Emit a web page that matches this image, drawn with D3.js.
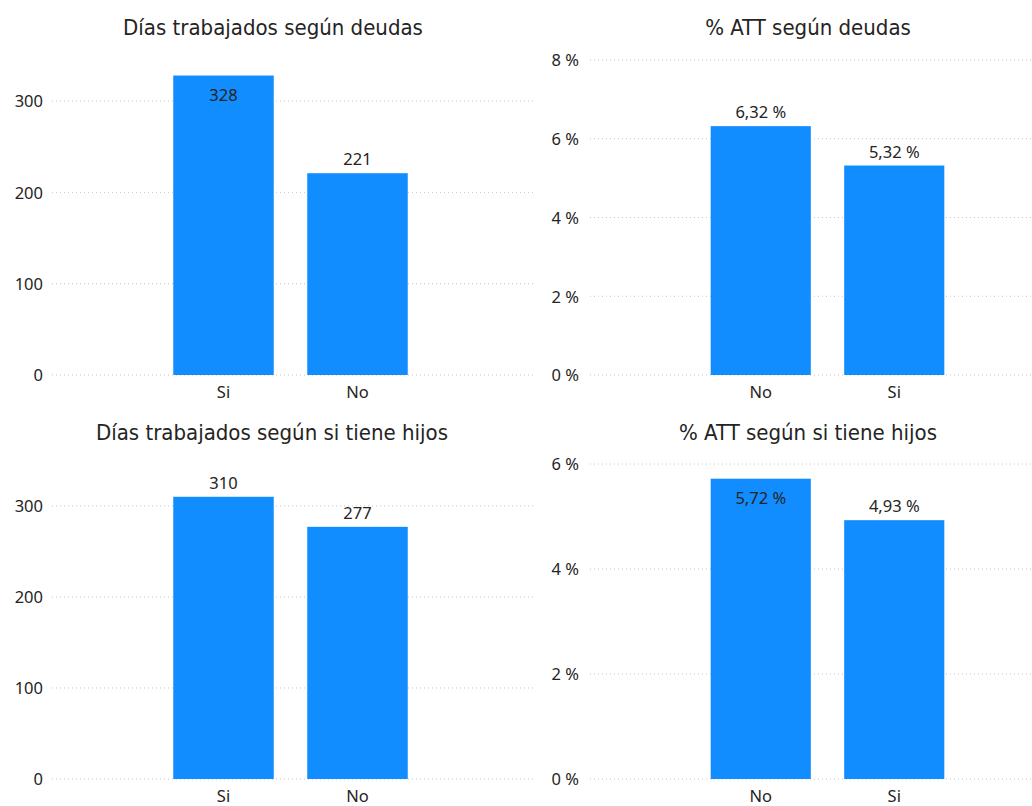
<!DOCTYPE html>
<html><head><meta charset="utf-8">
<script src="https://cdn.jsdelivr.net/npm/d3@7"></script>
<style>body{margin:0;background:#fff}</style>
</head><body>
<svg id="c" width="1032" height="806"></svg>
<script>
// Data
const titles = ["Días trabajados según deudas", "% ATT según deudas", "Días trabajados según si tiene hijos", "% ATT según si tiene hijos"];
const cats1 = ["Si", "No"];
const vals1 = [328, 221];
const cats2 = ["No", "Si"];
const vals2 = [0.0632, 0.0532];
const cats3 = ["Si", "No"];
const vals3 = [310, 277];
const cats4 = ["No", "Si"];
const vals4 = [0.0572, 0.0493];
const ticksDays = [0, 100, 200, 300];
const ticksPct1 = [0, 0.02, 0.04, 0.06, 0.08];
const ticksPct2 = [0, 0.02, 0.04, 0.06];

const svg = d3.select("#c");
const BAR = "#118DFF", TXT = "#252423", GRID = "#C8C6C4";
const TFONT = "'DejaVu Sans Condensed', sans-serif";
const LFONT = "'Noto Sans', sans-serif";
const LSIZE = 16.5;

const fmtDays = d => d3.format("d")(d);
const fmtPct = d => (d * 100).toFixed(2).replace(".", ",") + " %";
const fmtPctTick = d => Math.round(d * 100) + " %";

function chart(o) {
  const g = svg.append("g");
  const y = d3.scaleLinear().domain([0, o.ymax]).range([o.base, o.top]);
  const x = d3.scaleBand().domain(o.cats).range(o.xr).paddingInner(0.25).paddingOuter(0.125);
  g.append("text").attr("x", o.tx).attr("y", o.ty).attr("text-anchor", "middle")
    .attr("font-family", TFONT).attr("font-size", 22).attr("fill", TXT).text(o.title);
  const ax = d3.axisLeft(y).tickValues(o.ticks).tickSize(0).tickPadding(0).tickFormat(o.tickFmt);
  const ag = g.append("g").attr("transform", `translate(${o.labelX},0)`).call(ax);
  ag.select(".domain").remove();
  ag.selectAll("text").attr("font-family", LFONT).attr("font-size", LSIZE).attr("fill", TXT).attr("dy", "0.35em");
  g.selectAll(".grid").data(o.ticks).join("line")
    .attr("x1", o.gx[0]).attr("x2", o.gx[1])
    .attr("y1", d => y(d)).attr("y2", d => y(d))
    .attr("stroke", GRID).attr("stroke-width", 1).attr("stroke-dasharray", "1,3");
  g.selectAll(".bar").data(o.vals).join("rect")
    .attr("x", (d, i) => x(o.cats[i])).attr("width", x.bandwidth())
    .attr("y", d => y(d)).attr("height", d => o.base - y(d)).attr("fill", BAR);
  g.selectAll(".lbl").data(o.vals).join("text")
    .attr("x", (d, i) => x(o.cats[i]) + x.bandwidth() / 2)
    .attr("y", d => (y(d) - o.top < 20) ? y(d) + 25 : y(d) - 8)
    .attr("text-anchor", "middle").attr("font-family", LFONT).attr("font-size", LSIZE).attr("fill", TXT)
    .text(d => o.valFmt(d));
  const xa = d3.axisBottom(x).tickSize(0).tickPadding(0);
  const xg = g.append("g").attr("transform", `translate(0,${o.base + 17})`).call(xa);
  xg.select(".domain").remove();
  xg.selectAll("text").attr("font-family", LFONT).attr("font-size", LSIZE).attr("fill", TXT).attr("dy", "0.35em");
}

chart({title: titles[0], cats: cats1, vals: vals1, ymax: 345, base: 375, top: 60, xr: [156.5, 424.5],
  tx: 273, ty: 35, ticks: ticksDays, tickFmt: fmtDays, valFmt: fmtDays, labelX: 43, gx: [52, 536]});
chart({title: titles[1], cats: cats2, vals: vals2, ymax: 0.08, base: 375, top: 60, xr: [694, 961],
  tx: 808, ty: 35, ticks: ticksPct1, tickFmt: fmtPctTick, valFmt: fmtPct, labelX: 579, gx: [590, 1032]});
chart({title: titles[2], cats: cats3, vals: vals3, ymax: 346, base: 779, top: 464, xr: [156.5, 424.5],
  tx: 272, ty: 440, ticks: ticksDays, tickFmt: fmtDays, valFmt: fmtDays, labelX: 43, gx: [52, 536]});
chart({title: titles[3], cats: cats4, vals: vals4, ymax: 0.06, base: 779, top: 464, xr: [694, 961],
  tx: 808, ty: 440, ticks: ticksPct2, tickFmt: fmtPctTick, valFmt: fmtPct, labelX: 579, gx: [590, 1032]});
</script>
</body></html>
